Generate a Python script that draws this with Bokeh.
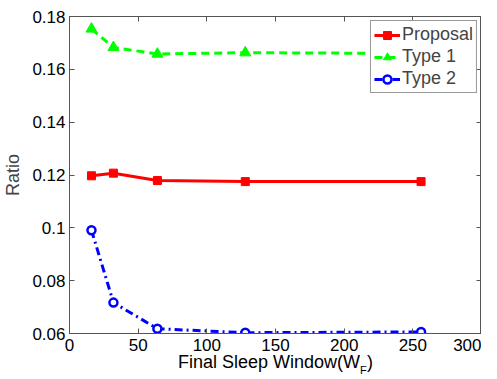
from bokeh.plotting import figure
from bokeh.models import LinearAxis, FixedTicker, Range1d, Legend, CustomLabelingPolicy
from bokeh.embed import file_html
from bokeh.resources import INLINE

# data
x_vals = [16, 32, 64, 128, 256]
proposal = [0.1197, 0.1207, 0.1179, 0.1175, 0.1175]
type1 = [0.1753, 0.1683, 0.1658, 0.1663, 0.1660]
type2 = [0.0991, 0.0717, 0.0618, 0.0603, 0.0606]
x_ticks = [0, 50, 100, 150, 200, 250, 300]
y_ticks = [0.06, 0.08, 0.1, 0.12, 0.14, 0.16, 0.18]
y_tick_labels = {0.06: "0.06", 0.08: "0.08", 0.1: "0.1", 0.12: "0.12", 0.14: "0.14", 0.16: "0.16", 0.18: "0.18"}
x_title = "Final Sleep Window(W"
x_title_sub = "F"
x_title_end = ")"

FONT = "Liberation Sans"
AX = "#555555"

p = figure(frame_width=412, frame_height=317, output_backend="svg", toolbar_location=None,
           x_range=Range1d(0, 300), y_range=Range1d(0.06, 0.18),
           min_border_left=60, min_border_top=16, min_border_right=0, min_border_bottom=0,
           x_axis_location=None, y_axis_location=None)
p.grid.visible = False
p.outline_line_color = AX
p.background_fill_color = "white"
p.border_fill_color = "white"

no_labels = CustomLabelingPolicy(code="""
try {
  const n = indices.size;
  for (let i = 0; i < n; i++) { indices.unset(i); }
  return indices;
} catch (e) {
  try { return new indices.constructor(indices.size, 0); } catch (e2) { return indices; }
}
""")

def style(ax, labels=True):
    ax.major_tick_in = 5
    ax.major_tick_out = 0
    ax.minor_tick_line_color = None
    ax.axis_line_color = AX
    ax.major_tick_line_color = AX
    ax.major_label_text_font = FONT
    ax.major_label_text_font_size = "17px"
    ax.major_label_text_color = "black"
    ax.major_label_standoff = 4
    if not labels:
        ax.major_label_policy = no_labels
        ax.major_label_text_font_size = "0px"
        ax.major_label_standoff = 0

def text_axis(ax, size, standoff):
    ax.axis_line_color = None
    ax.major_tick_line_color = None
    ax.minor_tick_line_color = None
    ax.major_tick_in = 0
    ax.major_tick_out = 0
    ax.major_label_text_font = FONT
    ax.major_label_text_font_size = size
    ax.major_label_text_color = "black"
    ax.major_label_standoff = standoff

xb = LinearAxis(ticker=FixedTicker(ticks=x_ticks))
style(xb)
xb.major_label_standoff = 5
p.add_layout(xb, "below")

# x-axis title drawn as labels of text-only axes (allows subscript)
t_main, t_sub, t_end = 145.3, 214.0, 218.8
xl = LinearAxis(ticker=FixedTicker(ticks=[t_main, t_end]),
                major_label_overrides={t_main: x_title, t_end: x_title_end})
text_axis(xl, "18px", -2)
p.add_layout(xl, "below")
xs = LinearAxis(ticker=FixedTicker(ticks=[t_sub]), major_label_overrides={t_sub: x_title_sub})
text_axis(xs, "11px", -11)
p.add_layout(xs, "below")

xt = LinearAxis(ticker=FixedTicker(ticks=x_ticks))
style(xt, False)
p.add_layout(xt, "above")
yl = LinearAxis(ticker=FixedTicker(ticks=y_ticks), axis_label="Ratio")
style(yl)
yl.major_label_overrides = y_tick_labels
yl.axis_label_text_font = FONT
yl.axis_label_text_font_size = "18px"
yl.axis_label_text_font_style = "normal"
yl.axis_label_standoff = 6
p.add_layout(yl, "left")
yr = LinearAxis(ticker=FixedTicker(ticks=y_ticks))
style(yr, False)
p.add_layout(yr, "right")

r1 = p.line(x_vals, proposal, line_color="#ff0000", line_width=3)
m1 = p.scatter(x_vals, proposal, marker="square", size=8, fill_color="#ff0000", line_color="#ff0000")
r2 = p.line(x_vals, type1, line_color="#00ff00", line_width=3, line_dash="8 5")
m2 = p.scatter(x_vals, type1, marker="triangle", size=11, fill_color="#00ff00", line_color="#00ff00")
r3 = p.line(x_vals, type2, line_color="#0000ff", line_width=3, line_dash="8 4 2 4")
m3 = p.scatter(x_vals, type2, marker="circle", size=8, fill_color="white", line_color="#0000ff", line_width=2.5)

legend = Legend(items=[("Proposal", [r1, m1]), ("Type 1", [r2, m2]), ("Type 2", [r3, m3])],
                location="top_right")
legend.label_text_font = FONT
legend.label_text_font_size = "18px"
legend.glyph_width = 26
legend.glyph_height = 20
legend.label_height = 20
legend.label_standoff = 2
legend.padding = 3
legend.spacing = 1
legend.margin = 4
legend.border_line_color = "#333333"
legend.border_line_width = 1
legend.background_fill_alpha = 1
p.add_layout(legend)

open("out.html", "w").write(file_html(p, INLINE))
